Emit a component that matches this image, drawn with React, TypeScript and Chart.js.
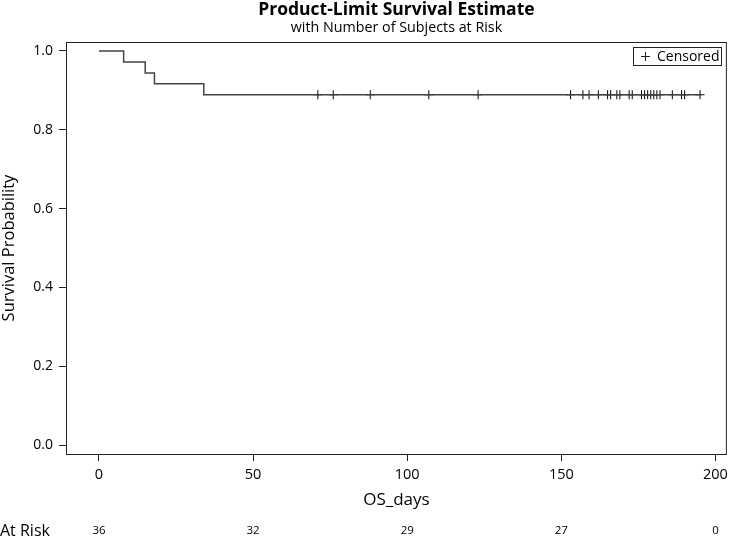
import React, { useEffect, useRef } from "react";
import { Chart, registerables } from "chart.js";

Chart.register(...registerables);

// ---- Data ----
const eventTimes = [0, 8, 15, 18, 34];
const eventSurvival = [1.0, 0.9722, 0.9444, 0.9167, 0.8889];
const lastFollowUp = 195;
const censoredTimes = [
  71, 76, 88, 107, 123, 153, 157, 159, 162, 165, 166, 168, 169, 172, 173, 176,
  177, 178, 179, 180, 181, 182, 186, 189, 190, 195,
];
const atRiskTimes = [0, 50, 100, 150, 200];
const atRiskCounts = [36, 32, 29, 27, 0];
const xTickValues = [0, 50, 100, 150, 200];
const yTickValues = [0, 0.2, 0.4, 0.6, 0.8, 1.0];

const titleText = "Product-Limit Survival Estimate";
const subtitleText = "with Number of Subjects at Risk";
const xTitle = "OS_days";
const yTitle = "Survival Probability";
const legendText = "Censored";
const atRiskLabel = "At Risk";

const FONT = "'Open Sans', 'DejaVu Sans', sans-serif";

function survivalAt(t: number): number {
  let s = eventSurvival[0];
  for (let i = 0; i < eventTimes.length; i++) {
    if (eventTimes[i] <= t) s = eventSurvival[i];
  }
  return s;
}

const overlayPlugin = {
  id: "kmOverlay",
  afterDraw(chart: any) {
    const { ctx, chartArea: a, scales } = chart;
    const xs = scales.x;
    ctx.save();
    // frame
    ctx.strokeStyle = "#222";
    ctx.lineWidth = 1;
    ctx.strokeRect(a.left + 0.5, a.top + 0.5, a.right - a.left - 1, a.bottom - a.top);

    const cx = (a.left + a.right) / 2;
    ctx.fillStyle = "#000";
    ctx.textAlign = "center";
    ctx.textBaseline = "middle";
    ctx.font = `bold 17.5px ${FONT}`;
    ctx.fillText(titleText, cx, 10);
    ctx.font = `14.3px ${FONT}`;
    ctx.fillText(subtitleText, cx, 28);

    // x axis title
    ctx.font = `17px ${FONT}`;
    ctx.fillText(xTitle, cx, 500);

    // y axis title
    ctx.save();
    ctx.translate(9, (a.top + a.bottom) / 2);
    ctx.rotate(-Math.PI / 2);
    ctx.font = `16.5px ${FONT}`;
    ctx.fillText(yTitle, 0, 0);
    ctx.restore();

    // at risk row
    ctx.textAlign = "left";
    ctx.font = `16px ${FONT}`;
    ctx.fillText(atRiskLabel, 0, 531);
    ctx.textAlign = "center";
    ctx.font = `11.5px ${FONT}`;
    atRiskTimes.forEach((t, i) => {
      ctx.fillText(String(atRiskCounts[i]), xs.getPixelForValue(t), 531);
    });

    // legend box
    ctx.strokeStyle = "#222";
    ctx.lineWidth = 1;
    ctx.strokeRect(633.5, 47.5, 88, 18);
    ctx.beginPath();
    ctx.moveTo(641, 56.5);
    ctx.lineTo(650, 56.5);
    ctx.moveTo(645.5, 52);
    ctx.lineTo(645.5, 61);
    ctx.stroke();
    ctx.textAlign = "left";
    ctx.font = `14px ${FONT}`;
    ctx.fillText(legendText, 657, 57);
    ctx.restore();
  },
};

export default function App() {
  const ref = useRef<HTMLCanvasElement | null>(null);

  useEffect(() => {
    document.body.style.margin = "0";
    if (!ref.current) return;
    const stepData = eventTimes.map((t, i) => ({ x: t, y: eventSurvival[i] }));
    stepData.push({ x: lastFollowUp, y: survivalAt(lastFollowUp) });
    const censData = censoredTimes.map((t) => ({ x: t, y: survivalAt(t) }));

    const chart = new Chart(ref.current, {
      type: "scatter",
      data: {
        datasets: [
          {
            label: "Survival",
            data: stepData,
            showLine: true,
            stepped: "before",
            borderColor: "#444",
            borderWidth: 1.5,
            pointRadius: 0,
            fill: false,
          },
          {
            label: "Censored",
            data: censData,
            showLine: false,
            pointStyle: "cross",
            pointRadius: 4.5,
            pointBorderColor: "#000",
            pointBorderWidth: 1,
            pointBackgroundColor: "#000",
          },
        ],
      },
      options: {
        animation: false,
        responsive: false,
        devicePixelRatio: 1,
        layout: { padding: { left: 0, right: 2, top: 42, bottom: 0 } },
        plugins: {
          legend: { display: false },
          tooltip: { enabled: false },
          title: { display: false },
        },
        scales: {
          x: {
            type: "linear",
            min: -10.7,
            max: 203.7,
            afterBuildTicks: (scale: any) => {
              scale.ticks = xTickValues.map((v) => ({ value: v }));
            },
            afterFit: (scale: any) => {
              scale.height = 84;
            },
            grid: {
              drawOnChartArea: false,
              drawTicks: true,
              tickLength: 7,
              color: "#222",
            },
            border: { display: false },
            ticks: {
              color: "#000",
              padding: 5,
              font: { family: FONT, size: 14.5 },
              maxRotation: 0,
              callback: (v: any) => String(v),
            },
          },
          y: {
            type: "linear",
            min: -0.0228,
            max: 1.0228,
            afterBuildTicks: (scale: any) => {
              scale.ticks = yTickValues.map((v) => ({ value: v }));
            },
            afterFit: (scale: any) => {
              scale.width = 66;
            },
            grid: {
              drawOnChartArea: false,
              drawTicks: true,
              tickLength: 7,
              color: "#222",
            },
            border: { display: false },
            ticks: {
              color: "#000",
              padding: 6,
              font: { family: FONT, size: 14 },
              callback: (v: any) => Number(v).toFixed(1),
            },
          },
        },
      },
      plugins: [overlayPlugin],
    });
    return () => chart.destroy();
  }, []);

  return (
    <div style={{ position: "absolute", left: 0, top: 0, width: 733, height: 538 }}>
      <canvas ref={ref} width={733} height={538} />
    </div>
  );
}
